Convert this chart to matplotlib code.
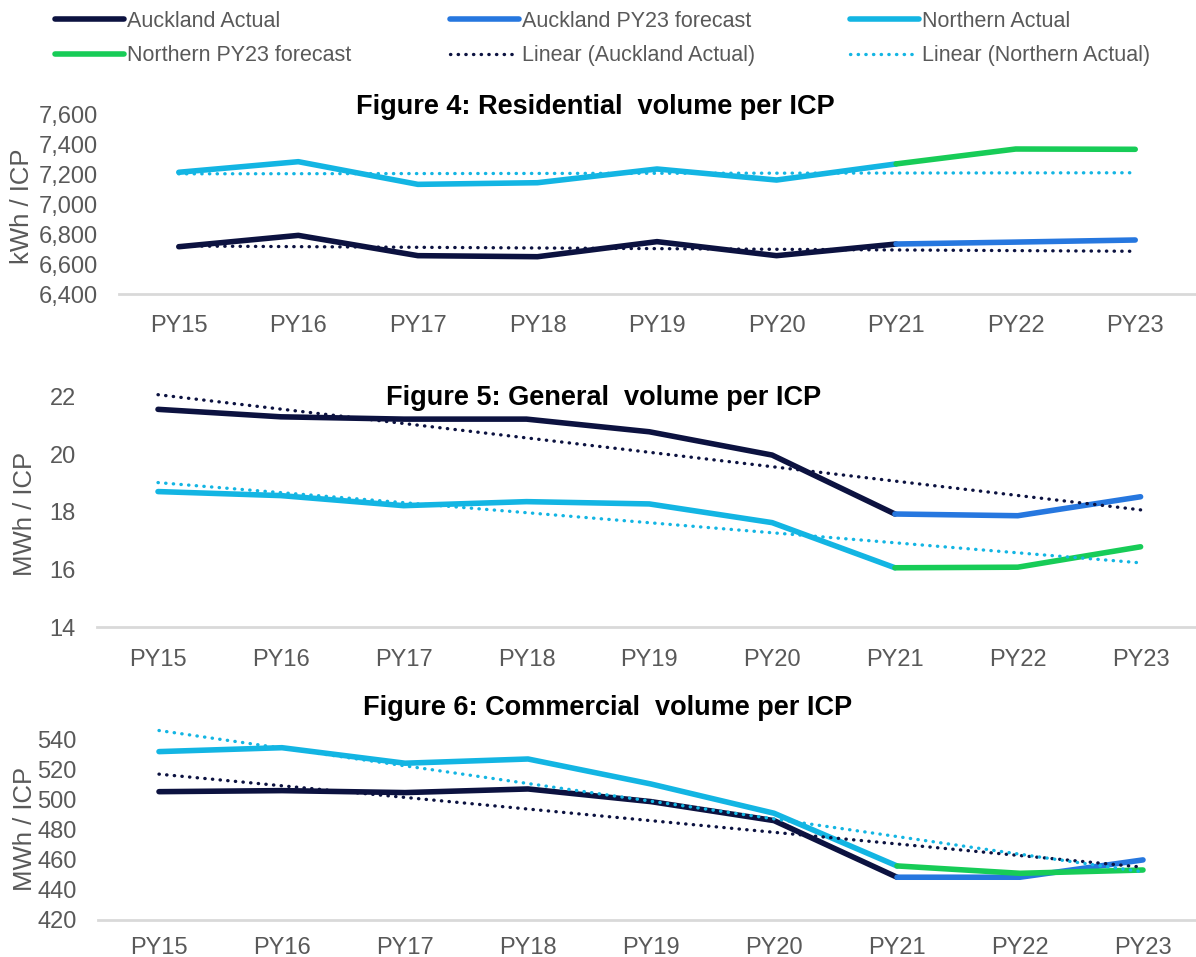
import numpy as np
import matplotlib.pyplot as plt
from matplotlib.lines import Line2D
from matplotlib.ticker import FuncFormatter

plt.rcParams["font.family"] = ["Liberation Sans", "DejaVu Sans"]

years = ["PY15", "PY16", "PY17", "PY18", "PY19", "PY20", "PY21", "PY22", "PY23"]

# Figure 4: residential kWh / ICP (actual PY15-PY21, forecast PY21-PY23)
res_akl_actual = [6717, 6793, 6657, 6650, 6751, 6657, 6735]
res_akl_forecast = [6735, 6748, 6762]
res_nth_actual = [7216, 7287, 7135, 7146, 7238, 7164, 7272]
res_nth_forecast = [7272, 7372, 7370]

# Figure 5: general MWh / ICP
gen_akl_actual = [21.57, 21.31, 21.23, 21.23, 20.79, 19.98, 17.93]
gen_akl_forecast = [17.93, 17.87, 18.53]
gen_nth_actual = [18.71, 18.57, 18.22, 18.36, 18.28, 17.63, 16.06]
gen_nth_forecast = [16.06, 16.08, 16.79]

# Figure 6: commercial MWh / ICP
com_akl_actual = [505.2, 505.9, 504.6, 507.0, 498.6, 486.0, 448.4]
com_akl_forecast = [448.4, 448.4, 459.9]
com_nth_actual = [531.8, 534.4, 524.1, 526.9, 510.3, 490.9, 455.9]
com_nth_forecast = [455.9, 451.0, 453.2]

NAVY = "#0c1240"
BLUE = "#2677df"
CYAN = "#13b5e3"
GREEN = "#17cc57"
GREY = "#595959"

LW = 4.0
DOT = dict(lw=2.4, linestyle=(0, (0.1, 2.2)), dash_capstyle="round")

fig = plt.figure(figsize=(11.96, 9.57), dpi=100)


def px(x0, y_bottom, w, h):
    return [x0 / 1196, 1 - y_bottom / 957, w / 1196, h / 957]


panels = [
    dict(rect=px(119, 294, 1076, 179), ylim=(6400, 7600), ticks=range(6400, 7601, 200),
         akl=(res_akl_actual, res_akl_forecast), nth=(res_nth_actual, res_nth_forecast),
         title="Figure 4: Residential  volume per ICP", tpos=(595, 107),
         ylabel="kWh / ICP", lpos=(22, 206), fmt="{:,.0f}", xpad=15),
    dict(rect=px(96.6, 627, 1105.4, 244.4), ylim=(14, 22.5), ticks=range(14, 23, 2),
         akl=(gen_akl_actual, gen_akl_forecast), nth=(gen_nth_actual, gen_nth_forecast),
         title="Figure 5: General  volume per ICP", tpos=(604, 398),
         ylabel="MWh / ICP", lpos=(25, 514), fmt="{:.0f}", xpad=16),
    dict(rect=px(97.5, 920, 1107, 195.8), ylim=(420, 550), ticks=range(420, 541, 20),
         akl=(com_akl_actual, com_akl_forecast), nth=(com_nth_actual, com_nth_forecast),
         title="Figure 6: Commercial  volume per ICP", tpos=(608, 708),
         ylabel="MWh / ICP", lpos=(25, 829), fmt="{:.0f}", xpad=12),
]

x = np.arange(len(years))
xa = x[:7]
xf = x[6:]

for p in panels:
    ax = fig.add_axes(p["rect"])
    akl_a, akl_f = p["akl"]
    nth_a, nth_f = p["nth"]
    ax.plot(xa, akl_a, color=NAVY, lw=LW, solid_capstyle="round", solid_joinstyle="round")
    ax.plot(xf, akl_f, color=BLUE, lw=LW, solid_capstyle="round", solid_joinstyle="round")
    ax.plot(xa, nth_a, color=CYAN, lw=LW, solid_capstyle="round", solid_joinstyle="round")
    ax.plot(xf, nth_f, color=GREEN, lw=LW, solid_capstyle="round", solid_joinstyle="round")
    # linear trendlines fitted on the actual years, extended to PY23
    for vals, col in [(akl_a, NAVY), (nth_a, CYAN)]:
        k, b = np.polyfit(xa, vals, 1)
        ax.plot(x, k * x + b, color=col, **DOT)

    ax.set_xlim(-0.5, 8.5)
    ax.set_ylim(*p["ylim"])
    ax.set_xticks(x)
    ax.set_xticklabels(years)
    ax.set_yticks(list(p["ticks"]))
    fmt = p["fmt"]
    ax.yaxis.set_major_formatter(FuncFormatter(lambda v, _, f=fmt: f.format(v)))
    ax.tick_params(length=0, labelsize=17, labelcolor=GREY)
    ax.tick_params(axis="x", pad=p["xpad"])
    ax.tick_params(axis="y", pad=15)
    for s in ["top", "right", "left"]:
        ax.spines[s].set_visible(False)
    ax.spines["bottom"].set_color("#d9d9d9")
    ax.spines["bottom"].set_linewidth(2)
    ax.patch.set_alpha(0)

    tx, ty = p["tpos"]
    fig.text(tx / 1196, 1 - ty / 957, p["title"], ha="center", va="center",
             fontsize=19.5, fontweight="bold", color="black")
    lx, ly = p["lpos"]
    fig.text(lx / 1196, 1 - ly / 957, p["ylabel"], ha="center", va="center",
             rotation=90, fontsize=18.5, color=GREY)

# legend: three columns of two rows
solid = dict(lw=LW, solid_capstyle="round")
legend_cols = [
    (55, [Line2D([], [], color=NAVY, **solid), Line2D([], [], color=GREEN, **solid)],
     ["Auckland Actual", "Northern PY23 forecast"]),
    (450, [Line2D([], [], color=BLUE, **solid), Line2D([], [], color=NAVY, **DOT)],
     ["Auckland PY23 forecast", "Linear (Auckland Actual)"]),
    (850, [Line2D([], [], color=CYAN, **solid), Line2D([], [], color=CYAN, **DOT)],
     ["Northern Actual", "Linear (Northern Actual)"]),
]
for lx, hs, ls in legend_cols:
    leg = fig.legend(hs, ls, loc="upper left", bbox_to_anchor=(lx / 1196, 1 - 11 / 957),
                     frameon=False, fontsize=15.5, handlelength=3.2, handletextpad=0.15,
                     labelspacing=0.62, borderpad=0, borderaxespad=0)
    for t in leg.get_texts():
        t.set_color(GREY)

fig.savefig("out.png", dpi=100)
